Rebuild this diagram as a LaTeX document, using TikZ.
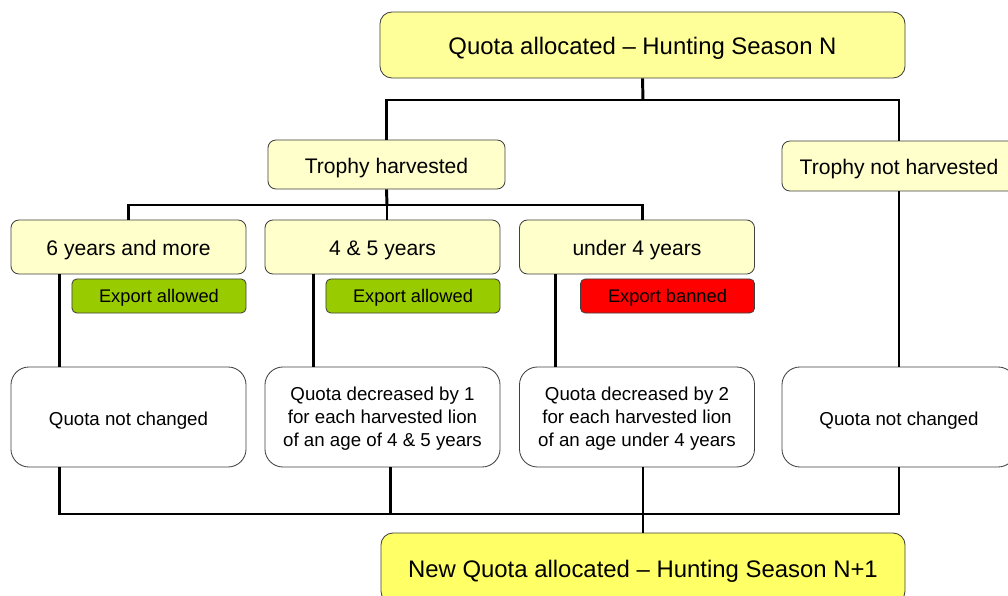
\documentclass[tikz,border=0pt]{standalone}
\usepackage{fontspec}
\setmainfont{Liberation Sans}
\definecolor{quotayellow}{HTML}{FFFF99}
\definecolor{newyellow}{HTML}{FFFF66}
\definecolor{paleyellow}{HTML}{FFFFCC}
\definecolor{exportgreen}{HTML}{99CC00}
\tikzset{
  box/.style={draw=black!75,line width=0.6pt,inner sep=0pt,align=center,text depth=0pt},
  quota/.style={box,fill=quotayellow,rounded corners=0.3cm,text height=13pt,font=\fontsize{17}{20}\selectfont},
  choice/.style={box,fill=paleyellow,rounded corners=0.2cm,text height=12.7pt,font=\fontsize{15}{18}\selectfont},
  export/.style={box,rounded corners=0.12cm,minimum width=4.35cm,minimum height=0.85cm,text height=9.5pt,font=\fontsize{13}{16}\selectfont},
  result/.style={box,fill=white,rounded corners=0.45cm,minimum height=2.5cm,font=\fontsize{13.3}{16.3}\selectfont},
  link/.style={line width=2.1pt}
}
\begin{document}
\begin{tikzpicture}[x=0.025cm,y=-0.025cm]
            \clip (0,0) rectangle (1008,596);
            \node[quota,minimum width=13.125cm,minimum height=1.65cm] (top) at (642.5,45) {Quota allocated -- Hunting Season N};
            \node[choice,minimum width=5.925cm,minimum height=1.225cm] (th) at (386.5,164.5) {Trophy harvested};
            \node[choice,minimum width=5.85cm,minimum height=1.25cm] (tnh) at (899,166) {Trophy not harvested};
            \node[choice,minimum width=5.875cm,minimum height=1.35cm] (a1) at (128.5,247) {6 years and more};
            \node[choice,minimum width=5.875cm,minimum height=1.35cm] (a2) at (382.5,247) {4 \& 5 years};
            \node[choice,minimum width=5.875cm,minimum height=1.35cm] (a3) at (637,247) {under 4 years};
            \node[export,fill=exportgreen] (e1) at (159,296) {Export allowed};
            \node[export,fill=exportgreen] (e2) at (413,296) {Export allowed};
            \node[export,fill=red] (e3) at (667.5,296) {Export banned};
            \node[result,text height=11.9pt,minimum width=5.875cm] (r1) at (128.5,417) {Quota not changed};
            \node[result,minimum width=5.875cm] (r2) at (382.5,417) {Quota decreased by 1\\for each harvested lion\\of an age of 4 \& 5 years};
            \node[result,minimum width=5.875cm] (r3) at (637,417) {Quota decreased by 2\\for each harvested lion\\of an age under 4 years};
            \node[result,text height=11.9pt,minimum width=5.85cm] (r4) at (899,417) {Quota not changed};
            \node[quota,fill=newyellow,minimum width=13.1cm,minimum height=1.75cm] (nq) at (643,568) {New Quota allocated -- Hunting Season N+1};
            \coordinate (b1) at (643,100);
            \coordinate (b2) at (387,205);
            \coordinate (b3) at (643,514);
            \draw[link] (top.south) -- (b1);
            \draw[link] (th.north) |- (b1) -| (tnh.north);
            \draw[link] (th.south) -- (b2);
            \draw[link] (a1.north) |- (b2) -| (a3.north -| top.south);
            \draw[link] (b2) -- (b2 |- a2.north);
            \draw[link] ([xshift=1.225cm]a1.south west) -- ([xshift=1.225cm]r1.north west);
            \draw[link] ([xshift=1.225cm]a2.south west) -- ([xshift=1.225cm]r2.north west);
            \draw[link] ([xshift=0.9cm]a3.south west) -- ([xshift=0.9cm]r3.north west);
            \draw[link] (tnh.south) -- (r4.north);
            \draw[link] ([xshift=1.225cm]r1.south west) |- (b3) -| (r4.south);
            \draw[link] ([xshift=0.19cm]r2.south) -- ([xshift=0.19cm]r2.south |- b3);
            \draw[link] (r3.south -| b3) -- (b3);
            \draw[link] (b3) -- (nq.north);
        \end{tikzpicture}
\end{document}
